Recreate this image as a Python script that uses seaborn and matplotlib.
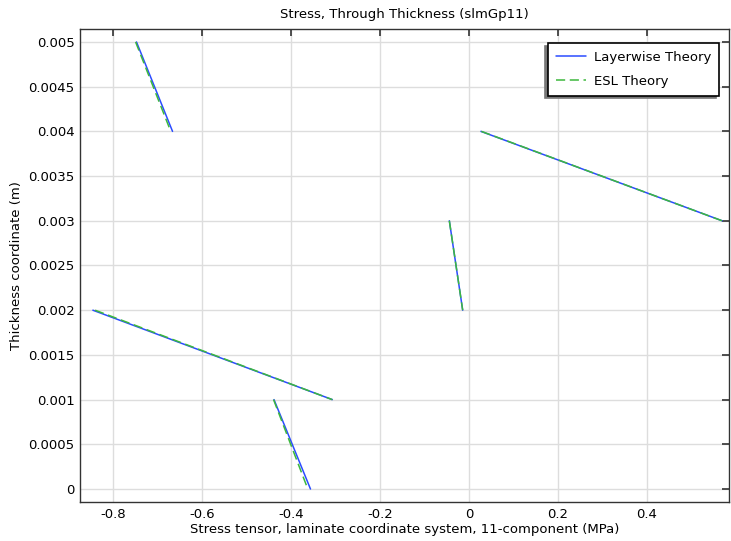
import pandas as pd
import matplotlib.pyplot as plt
import seaborn as sns

sns.set_style("white")
plt.rcParams["font.family"] = ["DejaVu Sans"]
plt.rcParams["text.color"] = "black"
plt.rcParams["axes.labelcolor"] = "black"

# layer end points: (stress at top of layer, stress at bottom of layer)
layer_top_z = [0.005, 0.004, 0.003, 0.002, 0.001]
layer_bot_z = [0.004, 0.003, 0.002, 0.001, 0.0]
layerwise_top = [-0.747, 0.027, -0.044, -0.845, -0.438]
layerwise_bot = [-0.666, 0.569, -0.014, -0.307, -0.356]
esl_top = [-0.749, 0.028, -0.044, -0.840, -0.439]
esl_bot = [-0.670, 0.569, -0.014, -0.307, -0.362]

rows = []
for i in range(5):
    rows.append(("Layerwise Theory", i, layerwise_top[i], layer_top_z[i]))
    rows.append(("Layerwise Theory", i, layerwise_bot[i], layer_bot_z[i]))
    rows.append(("ESL Theory", i, esl_top[i], layer_top_z[i]))
    rows.append(("ESL Theory", i, esl_bot[i], layer_bot_z[i]))
df = pd.DataFrame(rows, columns=["theory", "layer", "stress", "z"])

fig = plt.figure(figsize=(7.31, 5.41), dpi=100)
ax = fig.add_axes([0.1094, 0.0721, 0.8876, 0.8743])

sns.lineplot(data=df, x="stress", y="z", hue="theory", style="theory",
             units="layer", estimator=None, sort=False, ax=ax,
             palette={"Layerwise Theory": "#2b4cff", "ESL Theory": "#3db83d"},
             dashes={"Layerwise Theory": "", "ESL Theory": (6, 3)},
             linewidth=1.1)

ax.set_xlim(-0.874, 0.584)
ax.set_ylim(-0.000145, 0.005145)
ax.set_xticks([-0.8, -0.6, -0.4, -0.2, 0, 0.2, 0.4])
ax.set_xticklabels(["-0.8", "-0.6", "-0.4", "-0.2", "0", "0.2", "0.4"])
yt = [0, 0.0005, 0.001, 0.0015, 0.002, 0.0025, 0.003, 0.0035, 0.004, 0.0045, 0.005]
ax.set_yticks(yt)
ax.set_yticklabels(["0", "0.0005", "0.001", "0.0015", "0.002", "0.0025",
                    "0.003", "0.0035", "0.004", "0.0045", "0.005"])
ax.grid(True, color="#dddddd", linewidth=1)
ax.tick_params(direction="in", length=5, width=1.2, color="#333333",
               labelcolor="black", top=True, right=True, labelsize=9.5, pad=4)
for s in ax.spines.values():
    s.set_color("#333333")
    s.set_linewidth(1)

ax.set_title("Stress, Through Thickness (slmGp11)", fontsize=9.5, pad=8)
ax.set_xlabel("Stress tensor, laminate coordinate system, 11-component (MPa)",
              fontsize=9.5, labelpad=2)
ax.set_ylabel("Thickness coordinate (m)", fontsize=9.5, labelpad=4)

leg = ax.legend(loc="upper right", bbox_to_anchor=(0.985, 0.970), borderaxespad=0,
                fancybox=False, edgecolor="black", framealpha=1, fontsize=9.5,
                handlelength=2.3, handletextpad=0.6, borderpad=0.6,
                labelspacing=0.8,
                shadow={"ox": -2, "oy": -2, "color": "#777777", "alpha": 1})
leg.get_frame().set_linewidth(1.2)

plt.savefig("out.png", dpi=100)
plt.close()
